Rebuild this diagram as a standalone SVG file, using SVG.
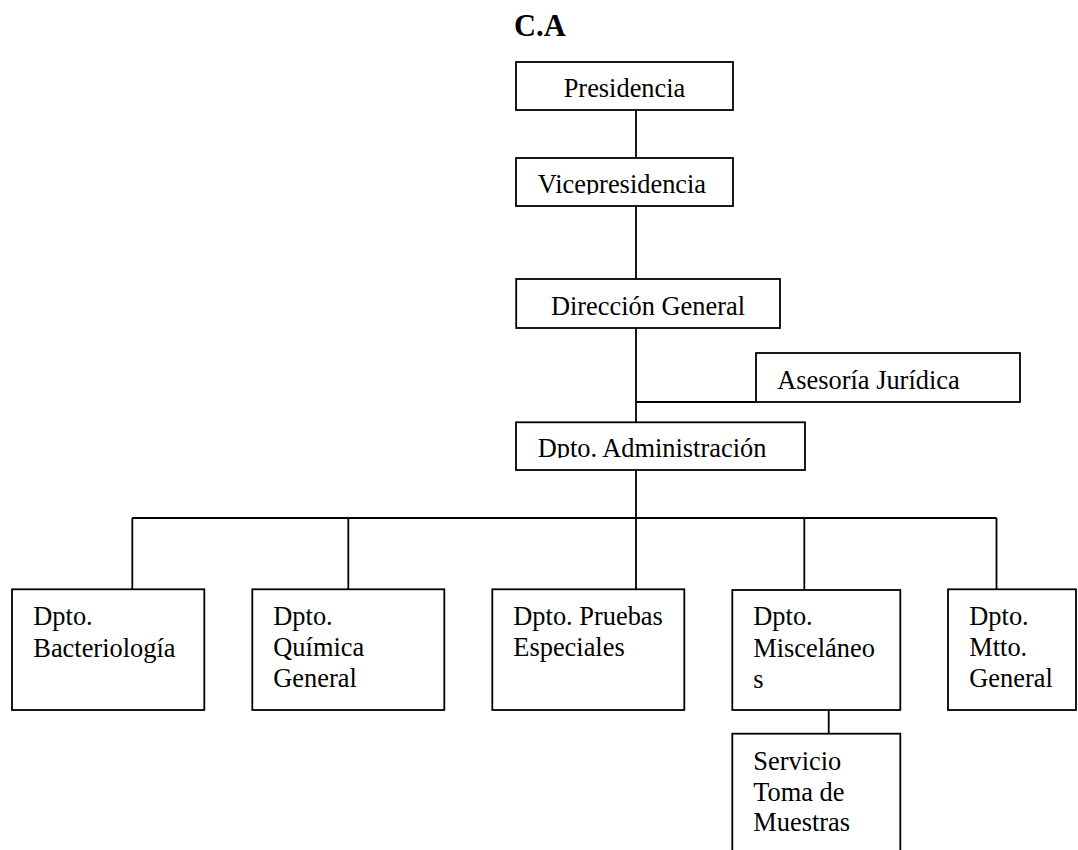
<svg xmlns="http://www.w3.org/2000/svg" width="1078" height="850" viewBox="0 0 1078 850">
<style>
.box{fill:#fff;stroke:#000;stroke-width:1.8}
.ln{fill:none;stroke:#000;stroke-width:1.8}
.t{font-family:"Liberation Serif","Times New Roman",serif;font-size:26.4px;fill:#000}
.title{font-family:"Liberation Serif","Times New Roman",serif;font-size:30.5px;font-weight:bold;fill:#000}
</style>
<defs>
<clipPath id="clipVice"><rect x="517" y="159" width="215" height="35.5"/></clipPath>
<clipPath id="clipAdm"><rect x="517" y="423" width="287" height="35"/></clipPath>
</defs>
<rect width="1078" height="850" fill="#fff"/>
<text class="title" x="514" y="36">C.A</text>
<g id="connectors">
<line class="ln" x1="636" y1="110" x2="636" y2="158"/>
<line class="ln" x1="636" y1="206" x2="636" y2="279"/>
<line class="ln" x1="636" y1="328" x2="636" y2="422"/>
<line class="ln" x1="636" y1="402" x2="756" y2="402"/>
<line class="ln" x1="636" y1="470" x2="636" y2="589"/>
<line class="ln" x1="132.3" y1="518" x2="996.5" y2="518"/>
<line class="ln" x1="132.3" y1="518" x2="132.3" y2="589"/>
<line class="ln" x1="348.3" y1="518" x2="348.3" y2="589"/>
<line class="ln" x1="804.3" y1="518" x2="804.3" y2="590"/>
<line class="ln" x1="996.5" y1="518" x2="996.5" y2="589"/>
<line class="ln" x1="828.7" y1="710" x2="828.7" y2="734"/>
</g>
<g id="presidencia">
<rect class="box" x="516" y="62" width="217" height="48"/>
<text class="t" x="624.5" y="97" text-anchor="middle">Presidencia</text>
</g>
<g id="vicepresidencia">
<rect class="box" x="516" y="158" width="217" height="48"/>
<text class="t" x="537.7" y="192.7" clip-path="url(#clipVice)">Vicepresidencia</text>
</g>
<g id="direccion">
<rect class="box" x="516.2" y="279" width="263.8" height="49"/>
<text class="t" x="648" y="315" text-anchor="middle">Dirección General</text>
</g>
<g id="asesoria">
<rect class="box" x="756" y="353" width="264" height="49"/>
<text class="t" x="777.2" y="389">Asesoría Jurídica</text>
</g>
<g id="administracion">
<rect class="box" x="516" y="422.3" width="289" height="47.7"/>
<text class="t" x="537.7" y="456.7" clip-path="url(#clipAdm)">Dpto. Administración</text>
</g>
<g id="bacteriologia">
<rect class="box" x="12" y="589.3" width="192.3" height="120.7"/>
<text class="t" x="33.3" y="625">Dpto.</text>
<text class="t" x="33.3" y="656.5">Bacteriología</text>
</g>
<g id="quimica">
<rect class="box" x="252.3" y="589.3" width="192" height="120.7"/>
<text class="t" x="273.3" y="625">Dpto.</text>
<text class="t" x="273.3" y="656">Química</text>
<text class="t" x="273.3" y="687">General</text>
</g>
<g id="pruebas">
<rect class="box" x="492.3" y="589.3" width="192" height="120.7"/>
<text class="t" x="513.3" y="625">Dpto. Pruebas</text>
<text class="t" x="513.3" y="656">Especiales</text>
</g>
<g id="miscelaneos">
<rect class="box" x="732.3" y="590" width="168" height="120"/>
<text class="t" x="753.3" y="625">Dpto.</text>
<text class="t" x="753.3" y="656.5">Misceláneo</text>
<text class="t" x="753.3" y="687.5">s</text>
</g>
<g id="mtto">
<rect class="box" x="948" y="589.3" width="128" height="120.7"/>
<text class="t" x="969.3" y="625">Dpto.</text>
<text class="t" x="969.3" y="656">Mtto.</text>
<text class="t" x="969.3" y="687">General</text>
</g>
<g id="servicio">
<rect class="box" x="732.3" y="733.7" width="168" height="130"/>
<text class="t" x="753.3" y="769.5">Servicio</text>
<text class="t" x="753.3" y="800.5">Toma de</text>
<text class="t" x="753.3" y="831">Muestras</text>
</g>
</svg>
